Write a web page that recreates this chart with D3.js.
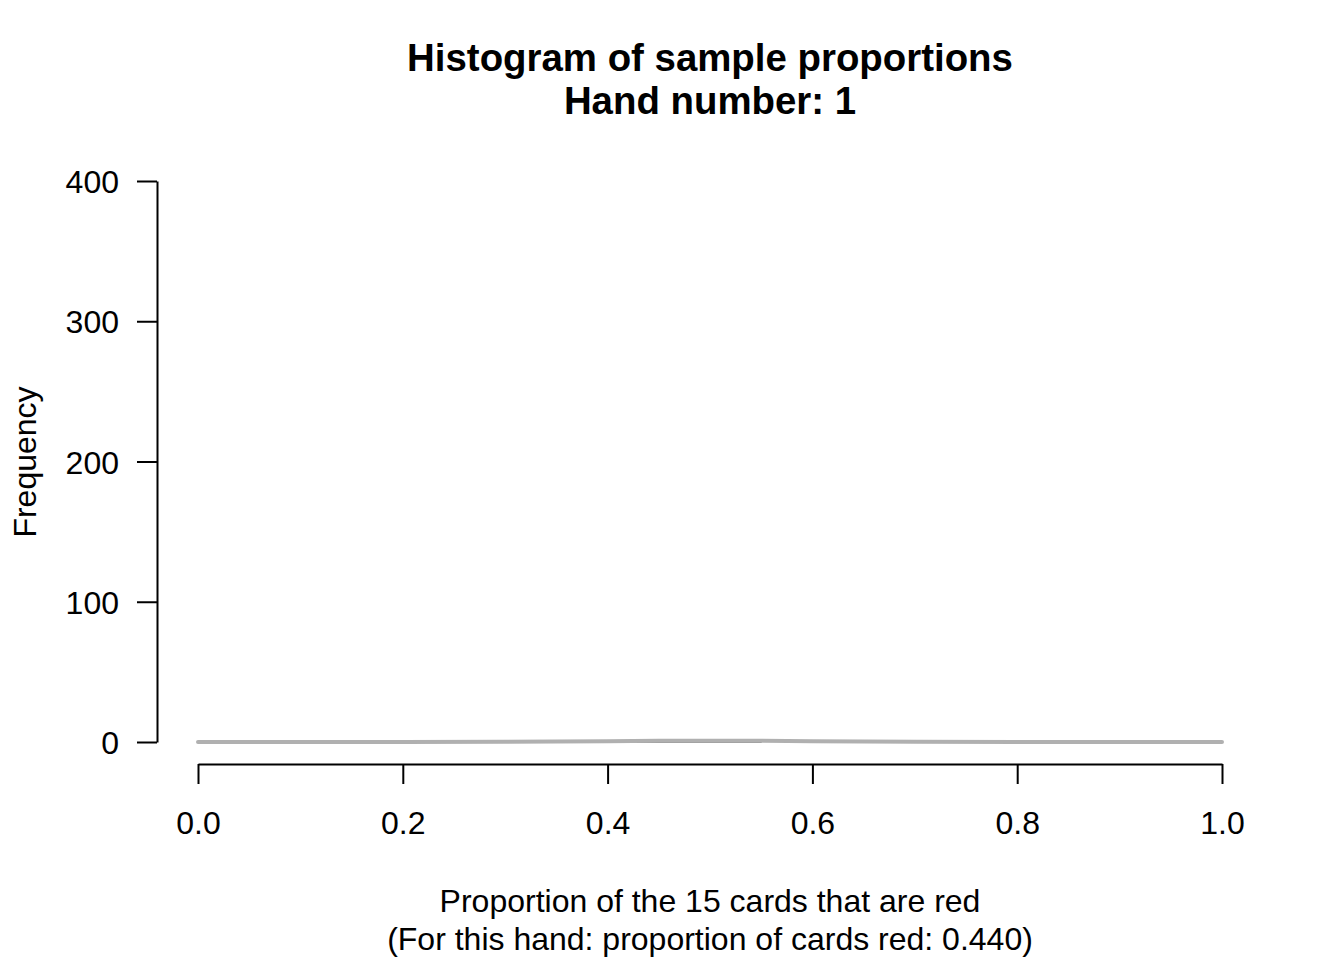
<!DOCTYPE html>
<html><head><meta charset="utf-8">
<script src="https://cdn.jsdelivr.net/npm/d3@7"></script>
<style>body{margin:0;background:#fff}svg{font-family:"Liberation Sans",Arial,sans-serif}</style>
</head><body>
<svg id="c" width="1344" height="960"></svg>
<script>
const titleLines = ["Histogram of sample proportions", "Hand number: 1"];
const xLabelLines = ["Proportion of the 15 cards that are red", "(For this hand: proportion of cards red: 0.440)"];
const yLabel = "Frequency";
const xTicks = [0.0, 0.2, 0.4, 0.6, 0.8, 1.0];
const yTicks = [0, 100, 200, 300, 400];
const binStarts = [0.35];
const binEnds = [0.55];
const binCounts = [1];
const curveX = [0.0, 0.1, 0.2, 0.3, 0.35, 0.4, 0.45, 0.5, 0.55, 0.6, 0.65, 0.7, 0.8, 0.9, 1.0];
const curveY = [0, 0, 0.01, 0.1, 0.35, 0.6, 0.85, 0.95, 0.85, 0.6, 0.35, 0.1, 0.01, 0, 0];

const svg = d3.select("#c");
const x = d3.scaleLinear().domain([0, 1]).range([198, 1222]);
const y = d3.scaleLinear().domain([0, 400]).range([742, 181]);
const FONT = "Liberation Sans, Arial, sans-serif";

// bars
svg.selectAll("rect.bar").data(binCounts).enter().append("rect")
  .attr("x", (d, i) => x(binStarts[i]))
  .attr("width", (d, i) => x(binEnds[i]) - x(binStarts[i]))
  .attr("y", d => y(d))
  .attr("height", d => y(0) - y(d))
  .attr("fill", "#555").attr("stroke", "#000").attr("stroke-width", 1);

// curve
svg.append("path").datum(curveX.map((v, i) => [v, curveY[i]]))
  .attr("d", d3.line().x(d => x(d[0])).y(d => y(d[1])))
  .attr("fill", "none").attr("stroke", "#b0b0b0").attr("stroke-width", 4)
  .attr("stroke-linecap", "round");

// x axis
const xa = svg.append("g").attr("transform", "translate(0,764)")
  .call(d3.axisBottom(x).tickValues(xTicks).tickFormat(d3.format(".1f")).tickSize(20).tickSizeOuter(0));
xa.select(".domain").attr("stroke", "#000").attr("stroke-width", 2);
xa.selectAll(".tick line").attr("stroke", "#000").attr("stroke-width", 2);
xa.selectAll(".tick text").attr("font-size", 32).attr("fill", "#000").attr("dy", 0).attr("y", 70)
  .attr("font-family", FONT);

// y axis
const ya = svg.append("g").attr("transform", "translate(157,0)")
  .call(d3.axisLeft(y).tickValues(yTicks).tickSize(20).tickSizeOuter(0));
ya.select(".domain").attr("stroke", "#000").attr("stroke-width", 2);
ya.selectAll(".tick line").attr("stroke", "#000").attr("stroke-width", 2);
ya.selectAll(".tick text").attr("font-size", 32).attr("fill", "#000").attr("x", -38).attr("dy", "0.36em")
  .attr("font-family", FONT);

// title
svg.selectAll("text.title").data(titleLines).enter().append("text")
  .attr("x", 710).attr("y", (d, i) => 71 + i * 43)
  .attr("text-anchor", "middle").attr("font-size", 38.4).attr("font-weight", "bold").text(d => d);

// x label
svg.selectAll("text.xl").data(xLabelLines).enter().append("text")
  .attr("x", 710).attr("y", (d, i) => 912 + i * 38)
  .attr("text-anchor", "middle").attr("font-size", 32).text(d => d);

// y label
svg.append("text").attr("transform", "translate(36,462) rotate(-90)")
  .attr("text-anchor", "middle").attr("font-size", 32).text(yLabel);
</script>
</body></html>
